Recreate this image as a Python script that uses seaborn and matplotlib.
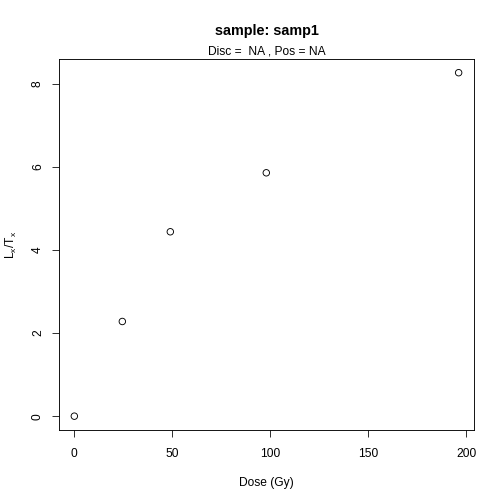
import numpy as np
import pandas as pd
import seaborn as sns
import matplotlib
matplotlib.use("Agg")
import matplotlib.pyplot as plt

# values
dose = [0, 24.5, 49, 98, 196.2]
lxtx = [0, 2.28, 4.44, 5.86, 8.27]
x_ticks = [0, 50, 100, 150, 200]
y_ticks = [0, 2, 4, 6, 8]

df = pd.DataFrame({"dose": dose, "lxtx": lxtx})

sns.set_style("white")
plt.rcParams['font.family'] = ['Liberation Sans', 'DejaVu Sans']
plt.rcParams['mathtext.default'] = 'regular'
plt.rcParams['text.color'] = 'black'
plt.rcParams['axes.labelcolor'] = 'black'
plt.rcParams['xtick.color'] = 'black'
plt.rcParams['ytick.color'] = 'black'

fig = plt.figure(figsize=(7, 7), dpi=72)
ax = fig.add_axes([0.117, 0.147, 0.8235, 0.736])

sns.scatterplot(data=df, x="dose", y="lxtx", ax=ax, marker="o", s=42,
                facecolors="none", edgecolor="black", linewidth=0.9)

# R style 4% padding
xr = max(dose) - min(dose)
yr = max(lxtx) - min(lxtx)
ax.set_xlim(min(dose) - 0.04 * xr, max(dose) + 0.04 * xr)
ax.set_ylim(min(lxtx) - 0.04 * yr, max(lxtx) + 0.04 * yr)

ax.set_xticks(x_ticks)
ax.set_yticks(y_ticks)
ax.set_xticklabels([str(t) for t in x_ticks], fontsize=12)
ax.set_yticklabels([str(t) for t in y_ticks], fontsize=12, rotation=90, va="center")
ax.tick_params(axis="both", direction="out", length=7, width=0.8,
               bottom=True, left=True)
ax.tick_params(axis="x", pad=11)
ax.tick_params(axis="y", pad=8)
for s in ax.spines.values():
    s.set_visible(True)
    s.set_color("black")
    s.set_linewidth(0.9)

ax.set_xlabel("Dose (Gy)", fontsize=12, labelpad=17)
ax.set_ylabel("L$_x$/T$_x$", fontsize=12, labelpad=13)

cx = 0.117 + 0.8235 / 2
fig.text(cx, 1 - 31 / 504, "sample: samp1", ha="center", va="center",
         fontsize=14.4, fontweight="bold")
fig.text(cx, 1 - 52 / 504, "Disc =  NA , Pos = NA", ha="center", va="center",
         fontsize=12)

fig.savefig("out.png", dpi=72)
